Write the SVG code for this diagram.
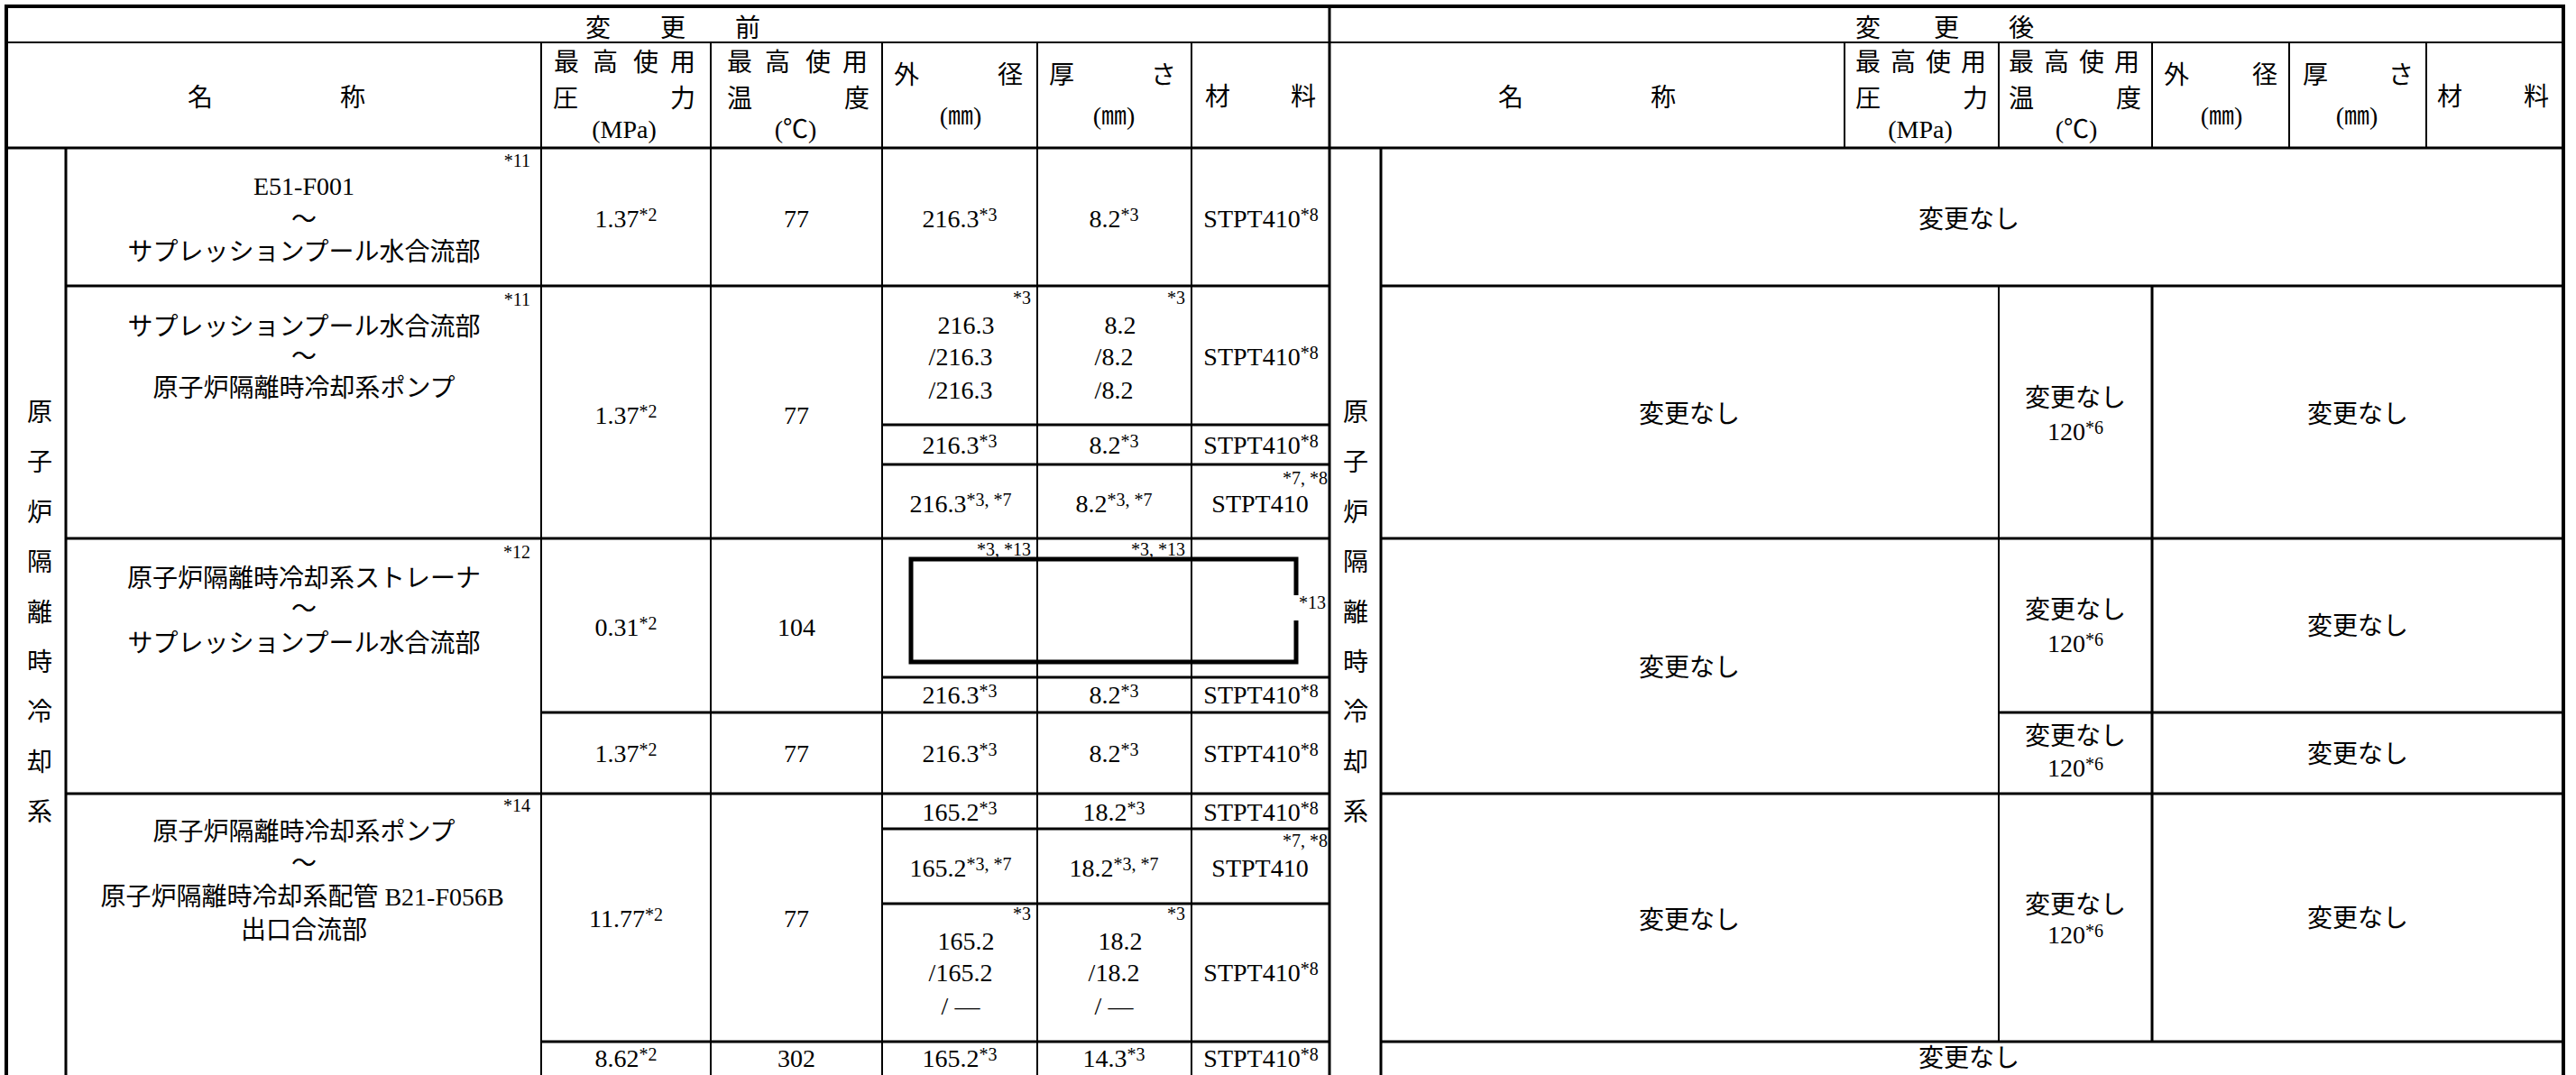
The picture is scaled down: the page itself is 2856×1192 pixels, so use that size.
<svg xmlns="http://www.w3.org/2000/svg" width="2856" height="1192" viewBox="0 0 2856 1192">
<style>
text{font-family:'Liberation Serif','Noto Sans CJK JP',serif;font-size:28px;fill:#000;text-anchor:middle}
.s{font-size:20px}
.e{text-anchor:end}
.st{text-anchor:start}
.sup{font-size:20px}
line{stroke:#000;stroke-width:2}
.k{stroke-width:3}
.o{stroke-width:4}
</style>
<rect width="2856" height="1192" fill="#fff"/>
<g id="grid">
<line class="o" x1="5" y1="7" x2="2844" y2="7"/>
<line class="o" x1="7" y1="5" x2="7" y2="1192"/>
<line class="o" x1="2842" y1="5" x2="2842" y2="1192"/>
<line x1="7" y1="47" x2="2842" y2="47"/>
<line class="k" x1="7" y1="164" x2="2842" y2="164"/>
<line class="k" x1="1474" y1="7" x2="1474" y2="1192"/>
<line class="k" x1="73" y1="164" x2="73" y2="1192"/>
<line x1="600" y1="47" x2="600" y2="1192"/>
<line x1="788" y1="47" x2="788" y2="1192"/>
<line x1="978" y1="47" x2="978" y2="1192"/>
<line x1="1150" y1="47" x2="1150" y2="1192"/>
<line x1="1321" y1="47" x2="1321" y2="1192"/>
<line class="k" x1="1531" y1="164" x2="1531" y2="1192"/>
<line x1="2045" y1="47" x2="2045" y2="164"/>
<line x1="2216" y1="47" x2="2216" y2="164"/>
<line x1="2386" y1="47" x2="2386" y2="164"/>
<line x1="2538" y1="47" x2="2538" y2="164"/>
<line x1="2690" y1="47" x2="2690" y2="164"/>
<line x1="2216" y1="317" x2="2216" y2="1155"/>
<line class="k" x1="2386" y1="317" x2="2386" y2="1155"/>
<line class="k" x1="73" y1="317" x2="1474" y2="317"/>
<line class="k" x1="73" y1="597" x2="1474" y2="597"/>
<line class="k" x1="73" y1="880" x2="1474" y2="880"/>
<line class="k" x1="978" y1="471" x2="1474" y2="471"/>
<line class="k" x1="978" y1="515" x2="1474" y2="515"/>
<line class="k" x1="978" y1="751" x2="1474" y2="751"/>
<line class="k" x1="600" y1="790" x2="1474" y2="790"/>
<line class="k" x1="978" y1="919" x2="1474" y2="919"/>
<line class="k" x1="978" y1="1002" x2="1474" y2="1002"/>
<line class="k" x1="600" y1="1155" x2="1474" y2="1155"/>
<line class="k" x1="1531" y1="317" x2="2842" y2="317"/>
<line class="k" x1="1531" y1="597" x2="2842" y2="597"/>
<line class="k" x1="2216" y1="790" x2="2842" y2="790"/>
<line class="k" x1="1531" y1="880" x2="2842" y2="880"/>
<line class="k" x1="1531" y1="1155" x2="2842" y2="1155"/>
<path d="M1437 660 V620 H1010 V734 H1437 V688" fill="none" stroke="#000" stroke-width="5"/>
</g>
<g id="header">
<text x="663 746 829" y="41">変更前</text>
<text x="2071 2158 2241" y="41">変更後</text>
<text x="222 391" y="118">名称</text>
<text x="1675 1844" y="118">名称</text>
<text x="628 671 716 757" y="79">最高使用</text>
<text x="627 757" y="119">圧力</text>
<text x="692" y="153">(MPa)</text>
<text x="820 862 907 948" y="79">最高使用</text>
<text x="820 950" y="119">温度</text>
<text x="882" y="153">(℃)</text>
<text x="1005 1120" y="93">外径</text>
<text x="1065" y="138">(㎜)</text>
<text x="1177 1290" y="93">厚さ</text>
<text x="1235" y="138">(㎜)</text>
<text x="1350 1445" y="117">材料</text>
<text x="2071 2110 2149 2188" y="79">最高使用</text>
<text x="2071 2190" y="119">圧力</text>
<text x="2129" y="153">(MPa)</text>
<text x="2241 2280 2319 2358" y="79">最高使用</text>
<text x="2241 2360" y="119">温度</text>
<text x="2302" y="153">(℃)</text>
<text x="2413 2511" y="93">外径</text>
<text x="2463" y="138">(㎜)</text>
<text x="2567 2662" y="93">厚さ</text>
<text x="2613" y="138">(㎜)</text>
<text x="2716 2812" y="117">材料</text>
</g>
<g id="system-before">
<text x="44" y="467">原</text>
<text x="44" y="522">子</text>
<text x="44" y="578">炉</text>
<text x="44" y="633">隔</text>
<text x="44" y="689">離</text>
<text x="44" y="744">時</text>
<text x="44" y="799">冷</text>
<text x="44" y="855">却</text>
<text x="44" y="910">系</text>
</g>
<g id="system-after">
<text x="1503" y="467">原</text>
<text x="1503" y="522">子</text>
<text x="1503" y="578">炉</text>
<text x="1503" y="633">隔</text>
<text x="1503" y="689">離</text>
<text x="1503" y="744">時</text>
<text x="1503" y="799">冷</text>
<text x="1503" y="855">却</text>
<text x="1503" y="910">系</text>
</g>
<g id="row1">
<text class="s e" x="588" y="185">*11</text>
<text x="337" y="216">E51-F001</text>
<text x="337" y="253">～</text>
<text x="337" y="289">サプレッションプール水合流部</text>
<text x="694" y="252">1.37<tspan class="sup" dy="-7">*2</tspan></text>
<text x="883" y="252">77</text>
<text x="1064" y="252">216.3<tspan class="sup" dy="-7">*3</tspan></text>
<text x="1235" y="252">8.2<tspan class="sup" dy="-7">*3</tspan></text>
<text x="1398" y="252">STPT410<tspan class="sup" dy="-7">*8</tspan></text>
<text x="2183" y="253">変更なし</text>
</g>
<g id="row2">
<text class="s e" x="588" y="339">*11</text>
<text x="337" y="372">サプレッションプール水合流部</text>
<text x="337" y="405">～</text>
<text x="337" y="440">原子炉隔離時冷却系ポンプ</text>
<text x="694" y="470">1.37<tspan class="sup" dy="-7">*2</tspan></text>
<text x="883" y="470">77</text>
<text class="s e" x="1143" y="337">*3</text>
<text x="1071" y="370">216.3</text>
<text x="1065" y="405">/216.3</text>
<text x="1065" y="442">/216.3</text>
<text class="s e" x="1314" y="337">*3</text>
<text x="1242" y="370">8.2</text>
<text x="1235" y="405">/8.2</text>
<text x="1235" y="442">/8.2</text>
<text x="1398" y="405">STPT410<tspan class="sup" dy="-7">*8</tspan></text>
<text x="1064" y="503">216.3<tspan class="sup" dy="-7">*3</tspan></text>
<text x="1235" y="503">8.2<tspan class="sup" dy="-7">*3</tspan></text>
<text x="1398" y="503">STPT410<tspan class="sup" dy="-7">*8</tspan></text>
<text x="1065" y="568">216.3<tspan class="sup" dy="-7">*3, *7</tspan></text>
<text x="1235" y="568">8.2<tspan class="sup" dy="-7">*3, *7</tspan></text>
<text class="s e" x="1472" y="537">*7, *8</text>
<text x="1397" y="568">STPT410</text>
<text x="1873" y="469">変更なし</text>
<text x="2301" y="451">変更なし</text>
<text x="2301" y="488">120<tspan class="sup" dy="-7">*6</tspan></text>
<text x="2614" y="469">変更なし</text>
</g>
<g id="row3">
<text class="s e" x="588" y="619">*12</text>
<text x="337" y="651">原子炉隔離時冷却系ストレーナ</text>
<text x="337" y="685">～</text>
<text x="337" y="723">サプレッションプール水合流部</text>
<text x="694" y="705">0.31<tspan class="sup" dy="-7">*2</tspan></text>
<text x="883" y="705">104</text>
<text x="694" y="845">1.37<tspan class="sup" dy="-7">*2</tspan></text>
<text x="883" y="845">77</text>
<text class="s e" x="1143" y="616">*3, *13</text>
<text class="s e" x="1314" y="616">*3, *13</text>
<text class="s st" x="1440" y="675">*13</text>
<text x="1064" y="780">216.3<tspan class="sup" dy="-7">*3</tspan></text>
<text x="1235" y="780">8.2<tspan class="sup" dy="-7">*3</tspan></text>
<text x="1398" y="780">STPT410<tspan class="sup" dy="-7">*8</tspan></text>
<text x="1064" y="845">216.3<tspan class="sup" dy="-7">*3</tspan></text>
<text x="1235" y="845">8.2<tspan class="sup" dy="-7">*3</tspan></text>
<text x="1398" y="845">STPT410<tspan class="sup" dy="-7">*8</tspan></text>
<text x="1873" y="750">変更なし</text>
<text x="2301" y="686">変更なし</text>
<text x="2301" y="723">120<tspan class="sup" dy="-7">*6</tspan></text>
<text x="2614" y="704">変更なし</text>
<text x="2301" y="826">変更なし</text>
<text x="2301" y="861">120<tspan class="sup" dy="-7">*6</tspan></text>
<text x="2614" y="846">変更なし</text>
</g>
<g id="row4">
<text class="s e" x="588" y="900">*14</text>
<text x="337" y="932">原子炉隔離時冷却系ポンプ</text>
<text x="337" y="967">～</text>
<text x="335" y="1004">原子炉隔離時冷却系配管 B21-F056B</text>
<text x="337" y="1041">出口合流部</text>
<text x="694" y="1028">11.77<tspan class="sup" dy="-7">*2</tspan></text>
<text x="883" y="1028">77</text>
<text x="1064" y="910">165.2<tspan class="sup" dy="-7">*3</tspan></text>
<text x="1235" y="910">18.2<tspan class="sup" dy="-7">*3</tspan></text>
<text x="1398" y="910">STPT410<tspan class="sup" dy="-7">*8</tspan></text>
<text x="1065" y="972">165.2<tspan class="sup" dy="-7">*3, *7</tspan></text>
<text x="1235" y="972">18.2<tspan class="sup" dy="-7">*3, *7</tspan></text>
<text class="s e" x="1472" y="939">*7, *8</text>
<text x="1397" y="972">STPT410</text>
<text class="s e" x="1143" y="1020">*3</text>
<text x="1071" y="1053">165.2</text>
<text x="1065" y="1088">/165.2</text>
<text x="1065" y="1125">/ —</text>
<text class="s e" x="1314" y="1020">*3</text>
<text x="1242" y="1053">18.2</text>
<text x="1235" y="1088">/18.2</text>
<text x="1235" y="1125">/ —</text>
<text x="1398" y="1088">STPT410<tspan class="sup" dy="-7">*8</tspan></text>
<text x="1873" y="1030">変更なし</text>
<text x="2301" y="1013">変更なし</text>
<text x="2301" y="1046">120<tspan class="sup" dy="-7">*6</tspan></text>
<text x="2614" y="1028">変更なし</text>
</g>
<g id="row5">
<text x="694" y="1183">8.62<tspan class="sup" dy="-7">*2</tspan></text>
<text x="883" y="1183">302</text>
<text x="1064" y="1183">165.2<tspan class="sup" dy="-7">*3</tspan></text>
<text x="1235" y="1183">14.3<tspan class="sup" dy="-7">*3</tspan></text>
<text x="1398" y="1183">STPT410<tspan class="sup" dy="-7">*8</tspan></text>
<text x="2183" y="1183">変更なし</text>
</g>
</svg>
